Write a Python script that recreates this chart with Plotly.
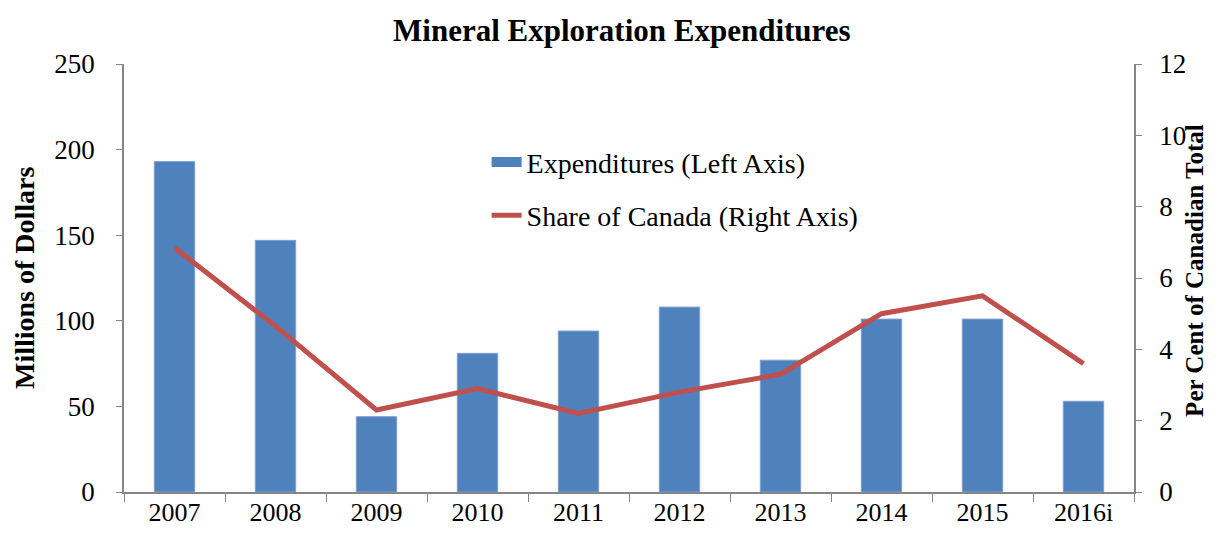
import plotly.graph_objects as go

years = ['2007', '2008', '2009', '2010', '2011', '2012', '2013', '2014', '2015', '2016i']
expenditures = [193, 147, 44, 81, 94, 108, 77, 101, 101, 53]
share_of_canada = [6.85, 4.65, 2.3, 2.9, 2.2, 2.8, 3.3, 5.0, 5.5, 3.6]

FONT = 'Liberation Serif'
AXIS_GREY = '#868686'
BLUE = '#4F81BD'
RED = '#C0504D'

fig = go.Figure()
fig.add_trace(go.Bar(
    x=years, y=expenditures,
    name='Expenditures (Left Axis)',
    marker={'color': BLUE, 'line': {'color': '#7FA2CF', 'width': 1}},
    showlegend=False,
    yaxis='y'
))
# legend entry for the bars drawn as a wide block, like the original
fig.add_trace(go.Scatter(
    x=[None], y=[None], mode='lines',
    name='Expenditures (Left Axis)',
    line={'color': BLUE, 'width': 14},
    legendgroup='a'
))
fig.add_trace(go.Scatter(
    x=years, y=share_of_canada,
    name='Share of Canada (Right Axis)',
    mode='lines',
    line={'color': RED, 'width': 5},
    legendgroup='b',
    yaxis='y2'
))

# axis titles as rotated annotations so they sit exactly where the original has them
fig.add_annotation(text='<b>Millions of Dollars</b>', textangle=-90, xref='paper', yref='paper',
                   x=-0.099, y=0.5, xanchor='center', yanchor='middle', showarrow=False,
                   font=dict(size=28))
fig.add_annotation(text='<b>Per Cent of Canadian Total</b>', textangle=-90, xref='paper', yref='paper',
                   x=1.06, y=0.518, xanchor='center', yanchor='middle', showarrow=False,
                   font=dict(size=25))

# page body adds an 8px margin all round, so the figure is 16px smaller than the window
fig.update_layout(
    width=1206, height=520,
    margin=dict(l=116, r=80, t=56, b=36, autoexpand=False),
    paper_bgcolor='white', plot_bgcolor='white',
    font=dict(family=FONT, size=27, color='black'),
    title=dict(text='<b>Mineral Exploration Expenditures</b>', x=0.509, xanchor='center',
               y=0.957, yanchor='middle', font=dict(size=31)),
    bargap=0.6,
    showlegend=True,
    legend=dict(x=0.359, y=0.829, xanchor='left', yanchor='top', bgcolor='rgba(0,0,0,0)',
                font=dict(size=28), traceorder='grouped', tracegroupgap=14, itemwidth=30),
    xaxis=dict(type='category', showline=True, linecolor=AXIS_GREY, linewidth=1.5,
               ticks='outside', tickson='boundaries', ticklen=8, tickcolor=AXIS_GREY,
               showgrid=False, automargin=False, ticklabelstandoff=-4,
               tickfont=dict(size=26)),
    yaxis=dict(range=[0, 250], dtick=50, showline=True, linecolor=AXIS_GREY, linewidth=1.5,
               ticks='outside', ticklen=6, tickcolor=AXIS_GREY, showgrid=False, zeroline=False,
               ticklabelstandoff=16, automargin=False),
    yaxis2=dict(range=[0, 12], dtick=2, overlaying='y', side='right', showline=True,
                linecolor=AXIS_GREY, linewidth=1.5, ticks='outside', ticklen=6,
                tickcolor=AXIS_GREY, showgrid=False, zeroline=False,
                ticklabelstandoff=12, automargin=False),
)

fig.write_html('out.html')
